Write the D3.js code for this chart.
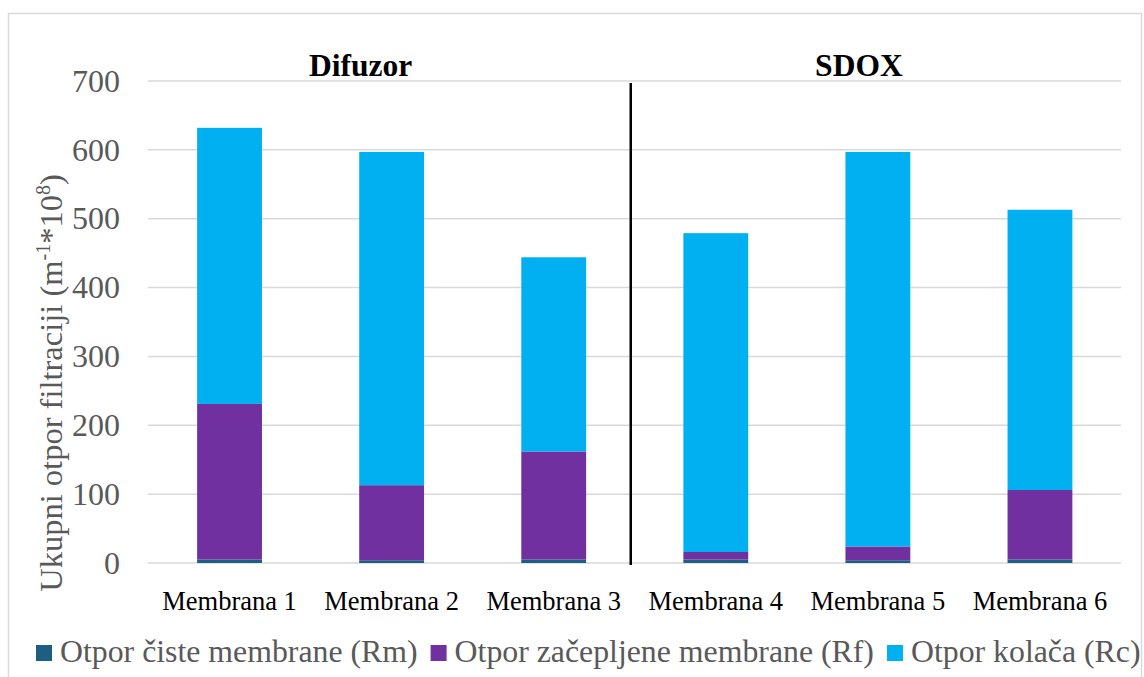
<!DOCTYPE html>
<html><head><meta charset="utf-8">
<script src="https://cdn.jsdelivr.net/npm/d3@7"></script>
<style>
html,body{margin:0;padding:0;background:#fff;}
svg{display:block;font-family:"Liberation Serif","Times New Roman",serif;}
</style></head>
<body><svg id="c" width="1144" height="677"></svg>
<script>
const categories = ["Membrana 1","Membrana 2","Membrana 3","Membrana 4","Membrana 5","Membrana 6"];
const seriesNames = ["Otpor čiste membrane (Rm)","Otpor začepljene membrane (Rf)","Otpor kolača (Rc)"];
const Rm = [5,4,5,5,4,5];
const Rf = [226,109,157,11,20,101];
const Rc = [401,484,282,463,573,407];
const yTicks = [0,100,200,300,400,500,600,700];
const groups = [
  {name:"Difuzor", from:"Membrana 1", to:"Membrana 3"},
  {name:"SDOX", from:"Membrana 4", to:"Membrana 6"}
];
const colors = ["#1d5f82","#7030a0","#00b0f0"];

const svg = d3.select("#c");
svg.append("rect").attr("x",8.5).attr("y",13.5).attr("width",1133).attr("height",700)
  .attr("fill","none").attr("stroke","#d9d9d9").attr("stroke-width",1.5);

const x = d3.scaleBand().domain(categories).range([148.5,1121]).paddingInner(0.6).paddingOuter(0.3);
const y = d3.scaleLinear().domain([0,700]).range([563,81]);

svg.append("g").selectAll("line").data(yTicks).join("line")
  .attr("x1",148).attr("x2",1121).attr("y1",d=>y(d)).attr("y2",d=>y(d))
  .attr("stroke","#d9d9d9").attr("stroke-width",1.5);

const yAxis = d3.axisLeft(y).tickValues(yTicks).tickSize(0).tickPadding(0);
const ya = svg.append("g").attr("transform","translate(120,0)").call(yAxis);
ya.select(".domain").remove();
ya.selectAll("text").attr("font-family","Liberation Serif").attr("font-size",32).attr("fill","#595959");

const rows = categories.map((c,i)=>({cat:c, Rm:Rm[i], Rf:Rf[i], Rc:Rc[i]}));
const stack = d3.stack().keys(["Rm","Rf","Rc"])(rows);
svg.append("g").selectAll("g").data(stack).join("g").attr("fill",(d,i)=>colors[i])
  .selectAll("rect").data(d=>d).join("rect")
  .attr("x",d=>x(d.data.cat)).attr("width",x.bandwidth())
  .attr("y",d=>y(d[1])).attr("height",d=>y(d[0])-y(d[1]));

const xAxis = d3.axisBottom(x).tickSize(0).tickPadding(0);
const xa = svg.append("g").attr("transform","translate(0,610)").call(xAxis);
xa.select(".domain").remove();
xa.selectAll("text").attr("font-family","Liberation Serif").attr("font-size",26.5).attr("fill","#000").attr("dy","0em");

const sepX = (x("Membrana 3")+x.bandwidth()+x("Membrana 4"))/2 - 4;
svg.append("line").attr("x1",sepX).attr("x2",sepX).attr("y1",83).attr("y2",565)
  .attr("stroke","#000").attr("stroke-width",2.5);

const offs = [-31,-19];
groups.forEach((g,i)=>{
  const cx = (x(g.from)+x(g.to)+x.bandwidth())/2 + offs[i];
  svg.append("text").attr("x",cx).attr("y",76).attr("text-anchor","middle")
    .attr("font-weight","bold").attr("font-size",31.5).attr("fill","#000").text(g.name);
});

const yt = svg.append("text").attr("transform","translate(62,383) rotate(-90)")
  .attr("text-anchor","middle").attr("font-size",32.5).attr("fill","#595959");
yt.append("tspan").text("Ukupni otpor filtraciji (m");
yt.append("tspan").attr("font-size",20).attr("dy",-12).text("-1");
yt.append("tspan").attr("dy",12).text("*10");
yt.append("tspan").attr("font-size",20).attr("dy",-12).text("8");
yt.append("tspan").attr("dy",12).text(")");

let lx = 36;
seriesNames.forEach((n,i)=>{
  svg.append("rect").attr("x",lx).attr("y",645).attr("width",16).attr("height",16).attr("fill",colors[i]);
  const t = svg.append("text").attr("x",lx+24).attr("y",662).attr("font-size",31.8).attr("fill","#595959").text(n);
  lx = lx + 24 + t.node().getComputedTextLength() + 13;
});
</script></body></html>
